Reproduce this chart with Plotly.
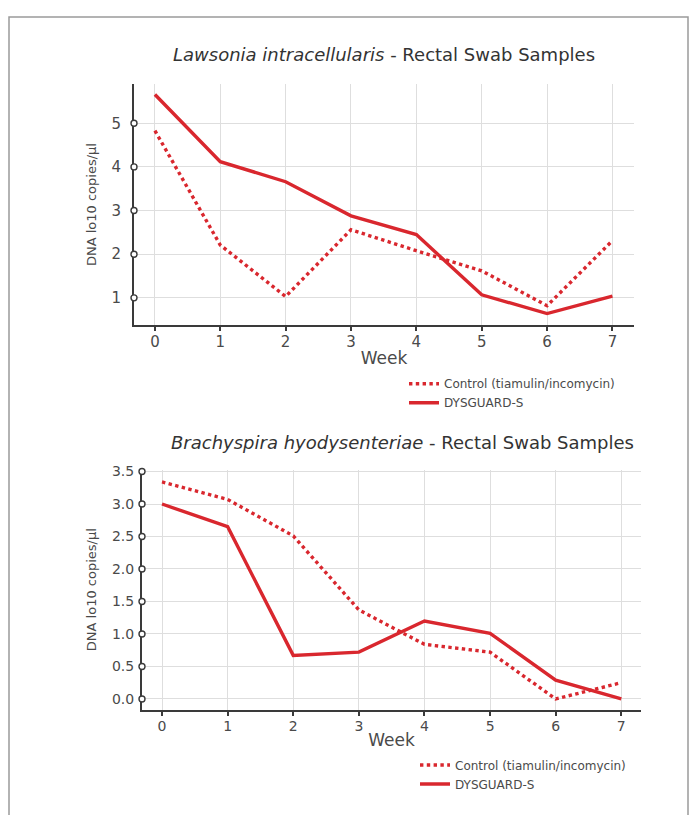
import plotly.graph_objects as go

weeks = [0, 1, 2, 3, 4, 5, 6, 7]
lawsonia_control = [4.83, 2.21, 1.03, 2.56, 2.08, 1.62, 0.82, 2.31]
lawsonia_dysguard = [5.66, 4.12, 3.66, 2.88, 2.45, 1.07, 0.64, 1.04]
brachy_control = [3.34, 3.07, 2.51, 1.37, 0.84, 0.72, 0.0, 0.25]
brachy_dysguard = [3.0, 2.65, 0.67, 0.72, 1.20, 1.01, 0.29, 0.0]

top_yticks = [1, 2, 3, 4, 5]
bot_yticks = [0.0, 0.5, 1.0, 1.5, 2.0, 2.5, 3.0, 3.5]
bot_yticklabels = ["0.0", "0.5", "1.0", "1.5", "2.0", "2.5", "3.0", "3.5"]

name_control = "Control (tiamulin/incomycin)"
name_dys = "DYSGUARD-S"
title_top = "<i>Lawsonia intracellularis</i> - Rectal Swab Samples"
title_bot = "<i>Brachyspira hyodysenteriae</i> - Rectal Swab Samples"
ytitle = "DNA lo10 copies/µl"
xtitle = "Week"

RED = "#d9272e"
AX = "#3a3a3a"
TXT = "#4a4a4a"
GRID = "#dedede"
FONT = "DejaVu Sans"

W, H = 693, 815
top_xr = [-0.32, 7.33]
top_yr = [0.386, 5.89]
bot_xr = [-0.305, 7.30]
bot_yr = [-0.167, 3.53]

fig = go.Figure()

def add_series(xa, ya, ctrl, dys, legend):
    fig.add_trace(go.Scatter(x=weeks, y=ctrl, mode="lines", name=name_control,
                             line=dict(color=RED, width=3.4, dash="dot"),
                             xaxis=xa, yaxis=ya, legend=legend))
    fig.add_trace(go.Scatter(x=weeks, y=dys, mode="lines", name=name_dys,
                             line=dict(color=RED, width=3.4),
                             xaxis=xa, yaxis=ya, legend=legend))

add_series("x", "y", lawsonia_control, lawsonia_dysguard, "legend")
add_series("x2", "y2", brachy_control, brachy_dysguard, "legend2")

# open circle tick markers on the y axes
fig.add_trace(go.Scatter(x=[top_xr[0]] * len(top_yticks), y=top_yticks, mode="markers",
                         marker=dict(symbol="circle", size=6, color="white",
                                     line=dict(color=AX, width=1.4)),
                         cliponaxis=False, showlegend=False, hoverinfo="skip",
                         xaxis="x", yaxis="y"))
fig.add_trace(go.Scatter(x=[bot_xr[0]] * len(bot_yticks), y=bot_yticks, mode="markers",
                         marker=dict(symbol="circle", size=6, color="white",
                                     line=dict(color=AX, width=1.4)),
                         cliponaxis=False, showlegend=False, hoverinfo="skip",
                         xaxis="x2", yaxis="y2"))

def px_x(p):
    return p / W

def px_y(p):
    return 1 - p / H

xcommon = dict(showgrid=True, gridcolor=GRID, gridwidth=1, zeroline=False,
               showline=True, linecolor=AX, linewidth=2, ticks="outside",
               ticklen=4, tickwidth=2, tickcolor=AX, tickmode="array",
               tickvals=weeks, ticklabelstandoff=-2,
               title_font=dict(family=FONT, size=17, color=TXT),
               layer="below traces", fixedrange=True)
ycommon = dict(showgrid=True, gridcolor=GRID, gridwidth=1, zeroline=False,
               showline=True, linecolor=AX, linewidth=2, ticks="",
               title_font=dict(family=FONT, size=13, color=TXT),
               layer="below traces", fixedrange=True)

fig.update_layout(
    width=W, height=H,
    margin=dict(l=0, r=0, t=0, b=0),
    paper_bgcolor="white", plot_bgcolor="white",
    font=dict(family=FONT, color=TXT),
    xaxis=dict(xcommon, domain=[px_x(134), px_x(634)], range=top_xr, anchor="y",
               tickfont=dict(family=FONT, size=15, color=TXT),
               title=dict(text=xtitle, standoff=2)),
    yaxis=dict(ycommon, domain=[px_y(321), px_y(79)], range=top_yr, anchor="x",
               tickvals=top_yticks, tickfont=dict(family=FONT, size=15, color=TXT),
               ticklabelstandoff=8, title=dict(text=ytitle, standoff=12)),
    xaxis2=dict(xcommon, domain=[px_x(142), px_x(641)], range=bot_xr, anchor="y2",
                tickfont=dict(family=FONT, size=14, color=TXT),
                title=dict(text=xtitle, standoff=2)),
    yaxis2=dict(ycommon, domain=[px_y(709), px_y(467)], range=bot_yr, anchor="x2",
                tickvals=bot_yticks, ticktext=bot_yticklabels,
                tickfont=dict(family=FONT, size=14, color=TXT),
                ticklabelstandoff=3, title=dict(text=ytitle, standoff=12)),
    legend=dict(x=px_x(404), y=px_y(366), xanchor="left", yanchor="top",
                font=dict(family=FONT, size=12, color=TXT), itemwidth=30,
                tracegroupgap=0, bgcolor="rgba(0,0,0,0)"),
    legend2=dict(x=px_x(415), y=px_y(750), xanchor="left", yanchor="top",
                 font=dict(family=FONT, size=12, color=TXT), itemwidth=30,
                 tracegroupgap=0, bgcolor="rgba(0,0,0,0)"),
    annotations=[
        dict(text=title_top, x=px_x(384), y=px_y(49), xref="paper", yref="paper",
             showarrow=False, font=dict(family=FONT, size=18, color="#333333"),
             xanchor="center", yanchor="middle"),
        dict(text=title_bot, x=px_x(402), y=px_y(440), xref="paper", yref="paper",
             showarrow=False, font=dict(family=FONT, size=18, color="#333333"),
             xanchor="center", yanchor="middle"),
    ],
    shapes=[
        dict(type="rect", xref="paper", yref="paper", x0=px_x(9), x1=px_x(688),
             y0=-0.05, y1=px_y(11), line=dict(color="#9a9a9a", width=1.5)),
    ],
)

fig.write_html("out.html", config={"displayModeBar": False},
               post_script="document.body.style.margin='0';")
